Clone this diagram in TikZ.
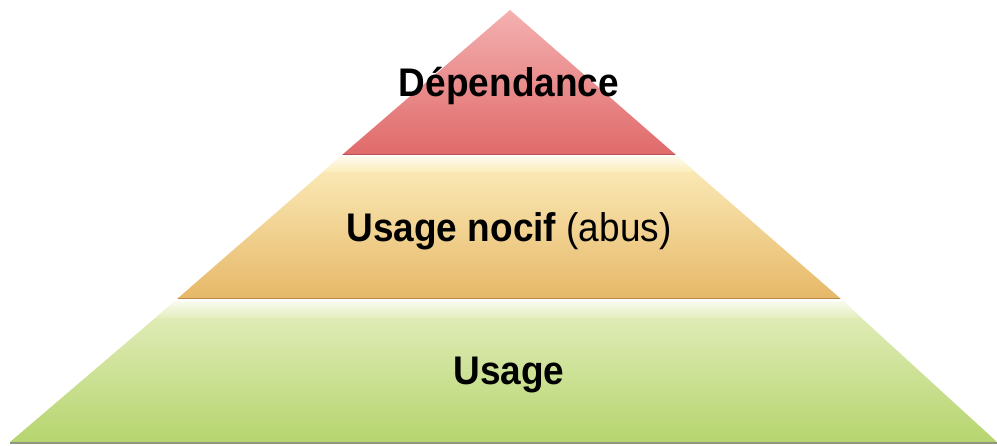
\documentclass[tikz,border=0pt]{standalone}
\usepackage{fontspec}
\setmainfont{Liberation Sans}
\definecolor{redtop}{HTML}{F4B0B0}
\definecolor{redbot}{HTML}{E06A6A}
\definecolor{redline}{HTML}{B85252}
\definecolor{midtop}{HTML}{FCEDBC}
\definecolor{midbot}{HTML}{E6B868}
\definecolor{midline}{HTML}{B98C48}
\definecolor{grntop}{HTML}{E4EEBE}
\definecolor{grnbot}{HTML}{B6D56F}
\definecolor{grnline}{HTML}{8E9680}
\tikzset{
  lbl/.style={anchor=base, inner sep=0pt, font=\fontsize{37}{40}\selectfont},
}
\newcommand{\tallt}[1]{\scalebox{1}[1.08]{#1}}
\begin{document}
\begin{tikzpicture}[x=1pt,y=-1pt]
\useasboundingbox (0,0) rectangle (997,446);
\fill[white] (0,0) rectangle (997,446);
% top layer
\shade[top color=redtop, bottom color=redbot] (510,10) -- (676,155) -- (342,155) -- cycle;
\draw[redline, line width=1.5pt] (343,154.5) -- (675,154.5);
% middle layer
\shade[top color=midtop, bottom color=midbot] (340,157) -- (678,157) -- (841,299) -- (177,299) -- cycle;
\begin{scope}
\clip (340,157) -- (678,157) -- (841,299) -- (177,299) -- cycle;
\shade[top color=white!70!midtop, bottom color=midtop] (0,157) rectangle (997,172);
\end{scope}
\draw[midline, line width=1.5pt] (178,298.5) -- (840,298.5);
% bottom layer
\shade[top color=grntop, bottom color=grnbot] (174,302) -- (844,302) -- (997,442) -- (10,442) -- cycle;
\begin{scope}
\clip (174,302) -- (844,302) -- (997,442) -- (10,442) -- cycle;
\shade[top color=white!70!grntop, bottom color=grntop] (0,302) rectangle (997,318);
\end{scope}
\draw[grnline, line width=2pt] (10,443) -- (997,443);
% labels
\node[lbl] (dep) at (509,97) {\tallt{\bfseries Dépendance}};
\node[lbl] (noc) at (509,242) {\tallt{\textbf{Usage nocif} (abus)}};
\node[lbl] (use) at (509,385) {\tallt{\bfseries Usage}};
\end{tikzpicture}
\end{document}
